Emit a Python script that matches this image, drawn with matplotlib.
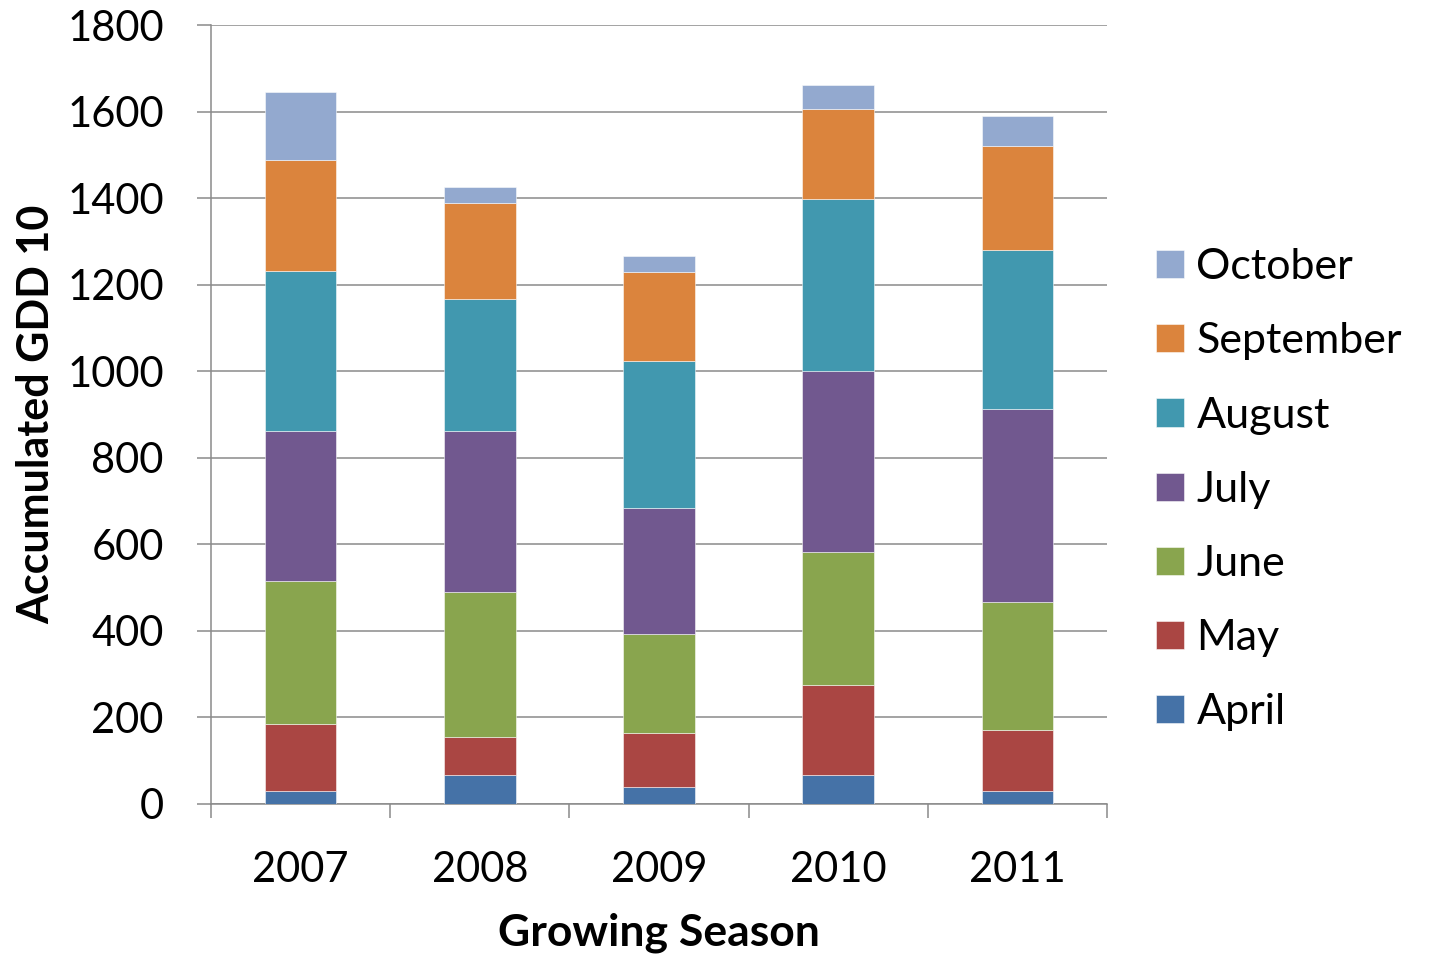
import matplotlib
matplotlib.use("Agg")
import matplotlib.pyplot as plt
import numpy as np

plt.rcParams['font.family'] = ['Lato', 'DejaVu Sans']

seasons = ["2007", "2008", "2009", "2010", "2011"]
months = ["April", "May", "June", "July", "August", "September", "October"]

# Monthly accumulated growing degree days (base 10) per season
april = [28, 66, 38, 66, 28]
may = [155, 88, 125, 208, 141]
june = [332, 335, 228, 307, 296]
july = [346, 372, 293, 420, 448]
august = [371, 305, 339, 397, 367]
september = [257, 222, 207, 209, 241]
october = [157, 38, 36, 55, 68]

series = [april, may, june, july, august, september, october]
colors = ["#4572A7", "#AA4643", "#89A54E", "#71588F", "#4198AF", "#DB843D", "#93A9CF"]

y_ticks = [0, 200, 400, 600, 800, 1000, 1200, 1400, 1600, 1800]

fig = plt.figure(figsize=(14.30, 9.56), dpi=100)
ax = fig.add_axes([0.1476, 0.1595, 0.6265, 0.8143])

x = np.arange(len(seasons))
bottom = np.zeros(len(seasons))
handles = []
for vals, col, name in zip(series, colors, months):
    h = ax.bar(x, vals, width=0.4, bottom=bottom, color=col,
               edgecolor=(1, 1, 1, 0.6), linewidth=0.6, label=name, zorder=3)
    handles.append(h)
    bottom += np.array(vals)

grid_col = "#8a8a8a"
ax.set_ylim(0, 1800)
ax.set_xlim(-0.5, len(seasons) - 0.5)
ax.set_yticks(y_ticks)
ax.set_yticklabels([str(v) for v in y_ticks])
ax.yaxis.grid(True, color=grid_col, linewidth=1.1, zorder=0)
ax.set_axisbelow(True)

# category labels centred on bars, tick marks at category boundaries
ax.set_xticks(x)
ax.set_xticklabels(seasons)
ax.tick_params(axis='x', length=0, pad=34, labelsize=30)
ax.set_xticks(np.arange(-0.5, len(seasons)), minor=True)
ax.tick_params(axis='x', which='minor', length=10, width=1.1, color=grid_col, direction='out')
ax.tick_params(axis='y', length=10, width=1.1, color=grid_col, direction='out', pad=24, labelsize=30)

for s in ["top", "right"]:
    ax.spines[s].set_visible(False)
for s in ["left", "bottom"]:
    ax.spines[s].set_color(grid_col)
    ax.spines[s].set_linewidth(1.1)

ax.set_xlabel("Growing Season", fontsize=32, fontweight="bold", labelpad=17)
ax.set_ylabel("Accumulated GDD 10", fontsize=31, fontweight="bold", labelpad=8)

leg = ax.legend(handles[::-1], months[::-1], loc="center left",
                bbox_to_anchor=(1.036, 0.403), frameon=False, fontsize=31,
                handlelength=0.63, handleheight=0.63, handletextpad=0.3,
                labelspacing=0.84, borderaxespad=0)

fig.savefig("out.png", dpi=100)
